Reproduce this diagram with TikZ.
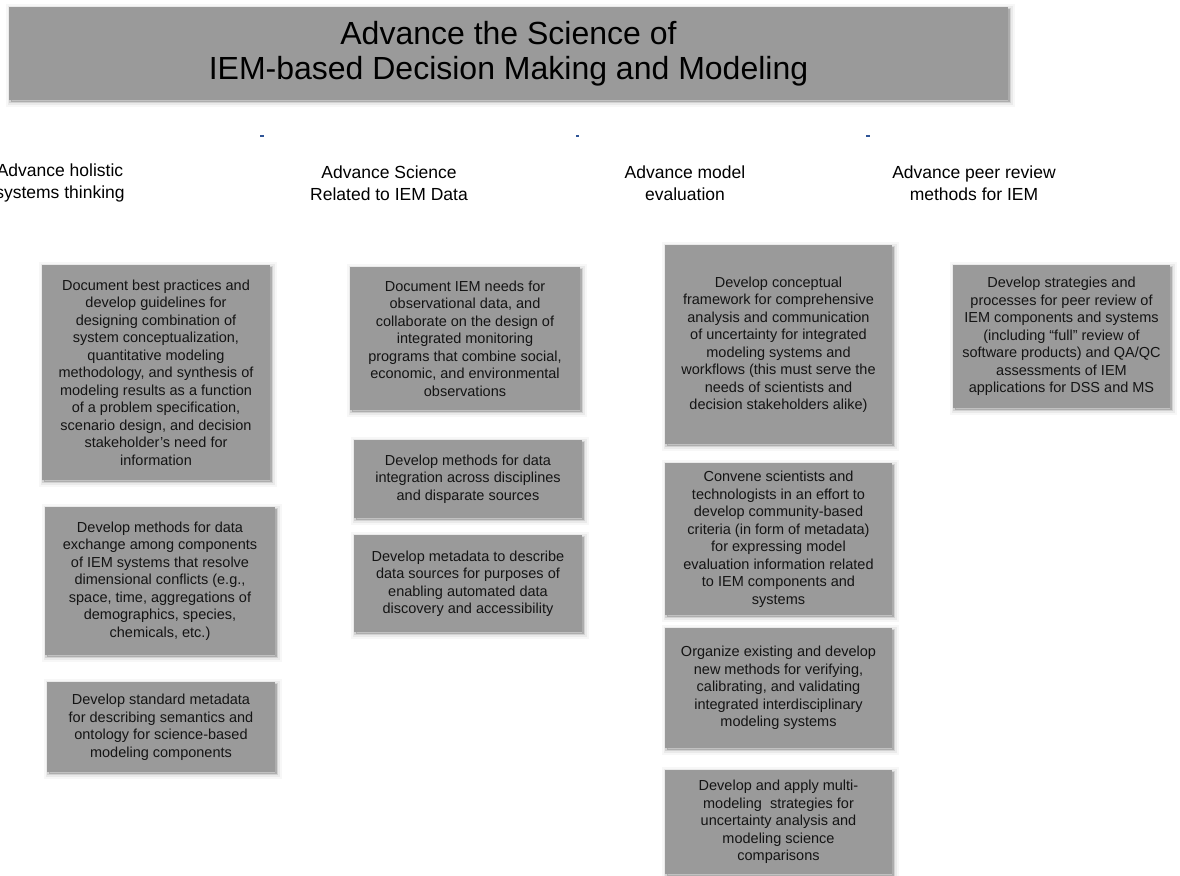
\documentclass[tikz,border=0pt]{standalone}
\usepackage{fontspec}
\setmainfont{Liberation Sans}
\usetikzlibrary{shadows}
\definecolor{boxgray}{RGB}{154,154,154}
\definecolor{inkgray}{RGB}{20,20,20}
\definecolor{dotblue}{RGB}{47,85,151}
\newcommand\boxtextfont{\fontsize{14.5}{17.5}\selectfont}
\tikzset{
  softshadow/.style={
    general shadow={fill=black,draw=black,line width=10pt,opacity=.03,shadow xshift=1.5pt,shadow yshift=-2pt},
    general shadow={fill=black,draw=black,line width=6pt,opacity=.05,shadow xshift=1.5pt,shadow yshift=-2pt},
    general shadow={fill=black,draw=black,line width=2.5pt,opacity=.10,shadow xshift=1.5pt,shadow yshift=-2pt}},
  gbox/.style 2 args={softshadow, fill=boxgray, minimum width=#1pt, minimum height=#2pt,
    inner sep=0pt, align=center, text=inkgray, font=\boxtextfont},
  hdr/.style={align=center, text=black, inner sep=0pt, font=\fontsize{17.5}{22}\selectfont},
  tick/.style={fill=dotblue},
}
\begin{document}
\begin{tikzpicture}[x=1pt,y=-1pt]
\useasboundingbox (0,0) rectangle (1180,875);

\node[gbox={999}{93}, font=\fontsize{32}{35}\selectfont, text=black] (title) at (508.5,53.5)
  {Advance the Science of\\IEM-based Decision Making and Modeling};

\fill[tick] (260,134.5) rectangle (263.5,137);
\fill[tick] (575.5,134.5) rectangle (579,137);
\fill[tick] (866,134.5) rectangle (869.5,137);

\node[hdr] (h1) at (60,183) {Advance holistic\\systems thinking};
\node[hdr] (h2) at (389,183) {Advance Science\\Related to IEM Data};
\node[hdr] (h3) at (685,183) {Advance model\\evaluation};
\node[hdr] (h4) at (974,183) {Advance peer review\\methods for IEM};

\node[gbox={228}{215}] (a1) at (156,372.5) {Document best practices and\\develop guidelines for\\designing combination of\\system conceptualization,\\quantitative modeling\\methodology, and synthesis of\\modeling results as a function\\of a problem specification,\\scenario design, and decision\\stakeholder's need for\\information};
\node[gbox={230}{148}] (a2) at (160,581) {Develop methods for data\\exchange among components\\of IEM systems that resolve\\dimensional conflicts (e.g.,\\space, time, aggregations of\\demographics, species,\\chemicals, etc.)};
\node[gbox={228}{90}] (a3) at (161,727) {Develop standard metadata\\for describing semantics and\\ontology for science-based\\modeling components};

\node[gbox={230}{143}] (b1) at (465,338.5) {Document IEM needs for\\observational data, and\\collaborate on the design of\\integrated monitoring\\programs that combine social,\\economic, and environmental\\observations};
\node[gbox={228}{78}] (b2) at (468,479) {Develop methods for data\\integration across disciplines\\and disparate sources};
\node[gbox={228}{97}] (b3) at (468,583.5) {Develop metadata to describe\\data sources for purposes of\\enabling automated data\\discovery and accessibility};

\node[gbox={227}{199}] (c1) at (778.5,344.5) {Develop conceptual\\framework for comprehensive\\analysis and communication\\of uncertainty for integrated\\modeling systems and\\workflows (this must serve the\\needs of scientists and\\decision stakeholders alike)};
\node[gbox={227}{152}] (c2) at (778.5,539) {Convene scientists and\\technologists in an effort to\\develop community-based\\criteria (in form of metadata)\\for expressing model\\evaluation information related\\to IEM components and\\systems};
\node[gbox={227}{120}] (c3) at (778.5,688) {Organize existing and develop\\new methods for verifying,\\calibrating, and validating\\integrated interdisciplinary\\modeling systems};
\node[gbox={227}{104}] (c4) at (778.5,822) {Develop and apply multi-\\modeling\ \ strategies for\\uncertainty analysis and\\modeling science\\comparisons};

\node[gbox={217}{143}] (d1) at (1061.5,336.5) {Develop strategies and\\processes for peer review of\\IEM components and systems\\(including “full” review of\\software products) and QA/QC\\assessments of IEM\\applications for DSS and MS};
\end{tikzpicture}
\end{document}
